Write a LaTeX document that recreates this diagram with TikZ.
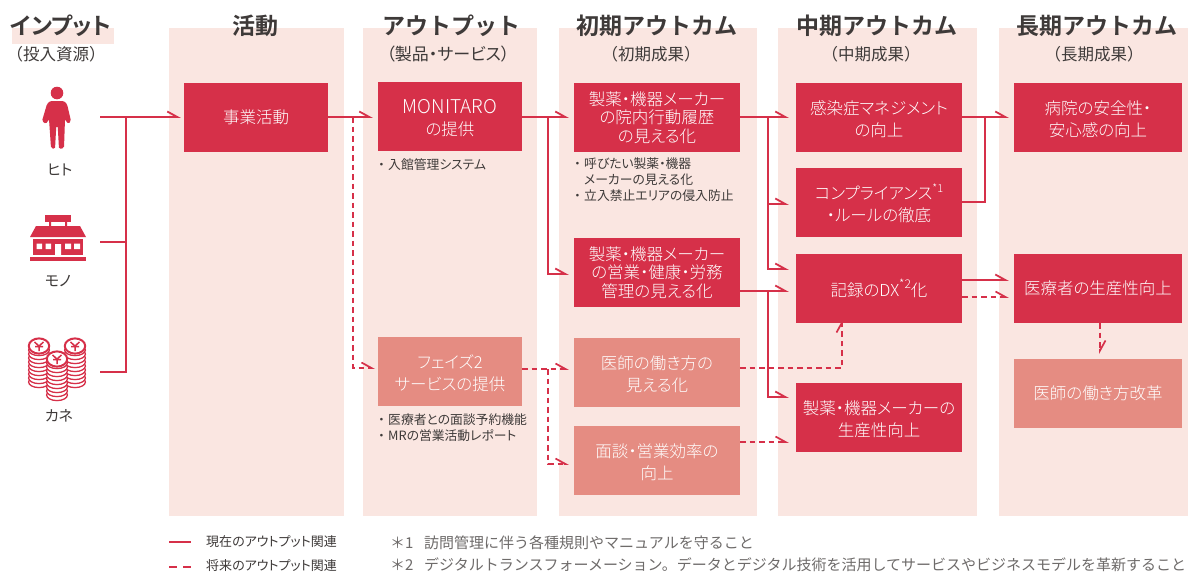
\documentclass[tikz,border=0pt]{standalone}
\usepackage{fontspec}
\setmainfont[RawFeature=+palt,BoldFont={Noto Sans CJK JP Bold}]{Noto Sans CJK JP}
\newfontfamily\plainjp[BoldFont={Noto Sans CJK JP Bold}]{Noto Sans CJK JP}
\newfontfamily\lightjp[RawFeature=+palt]{Noto Sans CJK JP Light}
\usetikzlibrary{arrows.meta,calc}
\definecolor{mainred}{HTML}{D63049}
\definecolor{softred}{HTML}{E58C82}
\definecolor{panel}{HTML}{FAE6E1}
\definecolor{ink}{HTML}{3E3A39}
\definecolor{noteink}{HTML}{6E6B6A}
\tikzset{
  x=1pt,y=-1pt,
  panelbox/.style={fill=panel,draw=none},
  solidbox/.style={fill=mainred,text=white,inner sep=0pt,align=center,font=\lightjp\fontsize{16.5}{22}\selectfont},
  softbox/.style={fill=softred,text=white,inner sep=0pt,align=center,font=\lightjp\fontsize{16.5}{22}\selectfont},
  threeline/.style={font=\lightjp\fontsize{16.5}{18.5}\selectfont},
  heading/.style={font=\plainjp\fontsize{23}{26}\selectfont\bfseries,text=ink,inner sep=0pt},
  subhead/.style={font=\plainjp\fontsize{16.5}{18}\selectfont,text=ink,inner sep=0pt},
  bullets/.style={font=\fontsize{12.8}{16}\selectfont,text=ink,inner sep=0pt,align=left,anchor=north west},
  iconlabel/.style={font=\fontsize{15}{16}\selectfont,text=ink,inner sep=0pt},
  legendtext/.style={font=\fontsize{13}{15}\selectfont,text=ink,inner sep=0pt,anchor=west},
  notetext/.style={font=\plainjp\fontsize{15}{17}\selectfont,text=noteink,inner sep=0pt,anchor=west},
  link/.style={draw=mainred,line width=2pt,line join=miter,-{Straight Barb[harpoon,length=10pt,width=11pt,line width=1.8pt]},shorten >=5pt},
  plainlink/.style={draw=mainred,line width=2pt},
  dashlink/.style={draw=mainred,line width=1.7pt,dash pattern=on 5.5pt off 4pt,-{Straight Barb[harpoon,length=10pt,width=11pt,line width=1.7pt]},shorten >=5pt},
  dashplain/.style={draw=mainred,line width=2pt,dash pattern=on 8pt off 6pt},
}
\newcommand{\lft}{\rule{0pt}{18pt}}
\newcommand{\dotitem}{\makebox[10pt][l]{・}}
\newcommand{\coinstack}[2]{%
  \foreach \k in {0,...,8}{
    \path[fill=white,draw=mainred,line width=1.3pt] (#1,#2+36-\k*4) ellipse [x radius=10.4pt,y radius=5.6pt];
  }
  \path[fill=white,draw=mainred,line width=2pt] (#1,#2) ellipse [x radius=10.2pt,y radius=7.6pt];
  \draw[mainred,line width=1.5pt] (#1-4.5,#2-4) -- (#1,#2) -- (#1+4.5,#2-4) (#1,#2) -- (#1,#2+5) (#1-4,#2+.5) -- (#1+4,#2+.5);
}
\begin{document}
\begin{tikzpicture}
\useasboundingbox (0,0) rectangle (1188,573);
\fill[white] (0,0) rectangle (1188,573);
% panels
\fill[panelbox] (12,28) rectangle (114,44);
\fill[panelbox] (169,28) rectangle (344,516);
\fill[panelbox] (363,28) rectangle (537,516);
\fill[panelbox] (559,28) rectangle (757,516);
\fill[panelbox] (778,28) rectangle (977,516);
\fill[panelbox] (999,28) rectangle (1188,516);
% headings
\node[heading,font=\fontsize{23}{26}\selectfont\bfseries] (h1) at (61,26) {インプット};
\node[heading] (h2) at (255,26) {活動};
\node[heading] (h3) at (451,26) {アウトプット};
\node[heading] (h4) at (657,26) {初期アウトカム};
\node[heading] (h5) at (877,26) {中期アウトカム};
\node[heading] (h6) at (1097,26) {長期アウトカム};
\node[subhead] (s1) at (56,54) {（投入資源）};
\node[subhead,font=\fontsize{17}{18}\selectfont] (s3) at (448,54) {（製品・サービス）};
\node[subhead] (s4) at (651,54) {（初期成果）};
\node[subhead] (s5) at (871,54) {（中期成果）};
\node[subhead] (s6) at (1094,54) {（長期成果）};
% boxes
\node[solidbox,minimum width=144pt,minimum height=69pt] (act) at (256,117.5) {事業活動};
\node[solidbox,minimum width=144pt,minimum height=69pt] (mon) at (450,116.5) {\lft{\fontsize{19}{22}\selectfont MONITARO}\\の提供};
\node[softbox,minimum width=144pt,minimum height=69pt] (ph2) at (450,371.5) {\lft フェイズ2\\サービスの提供};
\node[solidbox,threeline,minimum width=166pt,minimum height=69pt] (i1) at (657,117.5) {製薬・機器メーカー\\の院内行動履歴\\の見える化};
\node[solidbox,threeline,minimum width=166pt,minimum height=69pt] (i2) at (657,272.5) {製薬・機器メーカー\\の営業・健康・労務\\管理の見える化};
\node[softbox,minimum width=166pt,minimum height=69pt] (i3) at (657,372.5) {\lft 医師の働き方の\\見える化};
\node[softbox,minimum width=166pt,minimum height=69pt] (i4) at (657,460.5) {\lft 面談・営業効率の\\向上};
\node[solidbox,minimum width=166pt,minimum height=69pt] (m1) at (879,117.5) {\lft 感染症マネジメント\\の向上};
\node[solidbox,minimum width=166pt,minimum height=69pt] (m2) at (879,202.5) {\lft コンプライアンス\raisebox{.45em}{\fontsize{11}{11}\selectfont *1}\\・ルールの徹底};
\node[solidbox,minimum width=166pt,minimum height=69pt] (m3) at (879,288.5) {記録のDX\raisebox{.45em}{\fontsize{12}{12}\selectfont *2}化};
\node[solidbox,minimum width=166pt,minimum height=69pt] (m4) at (879,417.5) {\lft 製薬・機器メーカーの\\生産性向上};
\node[solidbox,minimum width=168pt,minimum height=69pt] (l1) at (1098,117.5) {\lft 病院の安全性・\\安心感の向上};
\node[solidbox,minimum width=168pt,minimum height=69pt] (l2) at (1098,288.5) {医療者の生産性向上};
\node[softbox,minimum width=168pt,minimum height=69pt] (l3) at (1098,393.5) {医師の働き方改革};
% bullet notes
\node[bullets] (n1) at (378,158) {\dotitem 入館管理システム};
\node[bullets] (n2) at (574,158) {\dotitem 呼びたい製薬・機器\\\hspace*{10pt}メーカーの見える化\\\dotitem 立入禁止エリアの侵入防止};
\node[bullets] (n3) at (378,414) {\dotitem 医療者との面談予約機能\\\dotitem MRの営業活動レポート};
% icons
\coordinate (hito) at (100,117);
\coordinate (mono) at (100,242);
\coordinate (kane) at (100,372);
\fill[mainred] (57,93) circle (6.3pt);
\fill[mainred,rounded corners=1.5pt] (50,101) -- (64,101) -- (67,104) -- (71,121) -- (68,124) -- (65,119) -- (64,148) -- (59,149) -- (57.7,126) -- (56.3,126) -- (55,149) -- (51,148) -- (49,119) -- (46,124) -- (42,121) -- (47,104) -- cycle;
\node[iconlabel] (lhito) at (60,170) {ヒト};
\fill[mainred] (45,215) rectangle (71,222);
\fill[mainred] (49,222) rectangle (51,227) (65,222) rectangle (67,227);
\fill[mainred] (36,226) -- (80,226) -- (86,237) -- (30,237) -- cycle;
\fill[mainred] (33,239) rectangle (83,255);
\fill[white] (36.5,243.5) rectangle (42,249) (45.5,243.5) rectangle (51,249) (65,243.5) rectangle (71,249) (74,243.5) rectangle (80,249) (55,244) rectangle (61,255);
\fill[mainred] (30,257) rectangle (86,261);
\node[iconlabel] (lmono) at (58,281) {モノ};
\coinstack{39}{346}
\coinstack{75}{346}
\coinstack{57}{359}
\node[iconlabel] (lkane) at (59,416) {カネ};
% junction coordinates
\coordinate (j0) at (126,117);
\coordinate (d0) at (353,117);
\coordinate (j1) at (548,117);
\coordinate (j2) at (548,369);
\coordinate (j3) at (768,117);
\coordinate (j4) at (768,291);
% solid connectors
\path[link,shorten >=3pt] (hito) -- (act.west |- hito);
\path[plainlink] (j0) -- (126,372) -- (kane);
\path[plainlink] (mono) -- (126,242);
\path[link] (act.east |- d0) -- (mon.west |- d0);
\path[link] (mon.east |- j1) -- (i1.west |- j1);
\path[link] (j1) |- (i2.west |- 0,274);
\path[link,shorten >=7pt] (i1.east |- j3) -- (m1.west |- j3);
\path[link,shorten >=7pt] (j3) |- (m2.west |- 0,204);
\path[link,shorten >=7pt] (j3) |- (m3.west |- 0,269);
\path[link,shorten >=7pt] (i2.east |- j4) -- (m3.west |- j4);
\path[link,shorten >=7pt] (j4) |- (m4.west |- 0,397);
\path[link] (m1.east |- j3) -- (l1.west |- j3);
\path[plainlink] (m2.east |- 0,202) -- (985,202) -- (985,117);
\path[link] (m3.east |- 0,280) -- (l2.west |- 0,280);
% dashed connectors
\path[dashlink,shorten >=3pt] (d0) |- (ph2.west |- 0,368);
\path[dashlink] (ph2.east |- j2) -- (i3.west |- j2);
\path[dashlink] (j2) |- (i4.west |- 0,464);
\path[dashlink,shorten >=-4pt] (i3.east |- 0,368) -- (842,368) -- (m3.south -| 842,0);
\path[dashlink,shorten >=7pt] (i4.east |- 0,442) -- (m4.west |- 0,442);
\path[dashlink] (m3.east |- 0,297) -- (l2.west |- 0,297);
\path[dashlink] (l2.south -| 1100,0) -- (l3.north -| 1100,0);
% legend
\coordinate (ls1) at (169,542);
\coordinate (le1) at (191,542);
\coordinate (ls2) at (169,567);
\coordinate (le2) at (191,567);
\path[plainlink] (ls1) -- (le1);
\path[dashplain] (ls2) -- (le2);
\node[legendtext] (t1) at (206,542) {現在のアウトプット関連};
\node[legendtext] (t2) at (206,565.5) {将来のアウトプット関連};
\node[notetext] (f1) at (390,543) {\makebox[34pt][l]{＊1}訪問管理に伴う各種規則やマニュアルを守ること};
\node[notetext] (f2) at (390,564.5) {\makebox[34pt][l]{＊2}デジタルトランスフォーメーション。データとデジタル技術を活用してサービスやビジネスモデルを革新すること};
\end{tikzpicture}
\end{document}
